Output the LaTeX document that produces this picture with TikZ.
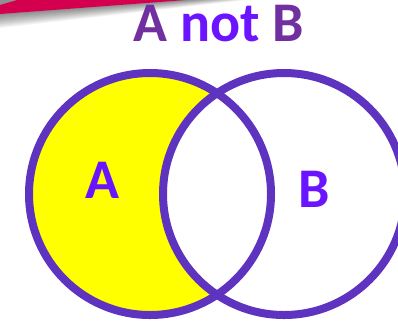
\documentclass[tikz,border=0pt]{standalone}
\usepackage{fontspec}
\setmainfont{Carlito}
\definecolor{ringpurple}{HTML}{5E33BF}
\definecolor{titlepurple}{HTML}{7030A0}
\definecolor{labelviolet}{HTML}{6A14FF}
\definecolor{bandred}{HTML}{D4004F}
\definecolor{fillyellow}{HTML}{FFFF00}
\tikzset{every picture/.style={line width=0.75pt}}
\tikzset{
  ring/.style={draw=ringpurple, line width=6pt},
  bigtext/.style={inner sep=0pt, anchor=base, font=\bfseries\fontsize{42}{48}\selectfont},
}

\begin{document}
\begin{tikzpicture}[x=0.75pt,y=0.75pt,yscale=-1,xscale=1]
	\useasboundingbox (0,0) rectangle (398,322);
	
	%Shadow under the band
	\foreach \d in {1,...,14}
	  \fill [black, opacity=0.04] (0,14+\d) -- (190+4*\d,0) -- (0,0) -- cycle ;
	%Band
	\fill [bandred] (0,5) -- (17,0) -- (186,0) -- (0,14) -- cycle ;
	
	%Centres
	\coordinate (cA) at (150,194) ;
	\coordinate (cB) at (284,194) ;
	
	%A filled, A and B left white
	\fill [fillyellow] (cA) circle [radius=121] ;
	\begin{scope}
	  \clip (cB) circle [radius=121] ;
	  \fill [white] (cA) circle [radius=121] ;
	\end{scope}
	
	%Circles
	\draw [ring] (cA) circle [radius=121] ;
	\draw [ring] (cB) circle [radius=121] ;
	
	% Text Node
	\node [bigtext] (title) at (219,41) {\color{titlepurple}A \color{labelviolet}not \color{titlepurple}B};
	% Text Node
	\node [bigtext, text=labelviolet] (labA) at (102,198) {A};
	% Text Node
	\node [bigtext, text=labelviolet] (labB) at (314,207) {B};
	
\end{tikzpicture}
\end{document}
